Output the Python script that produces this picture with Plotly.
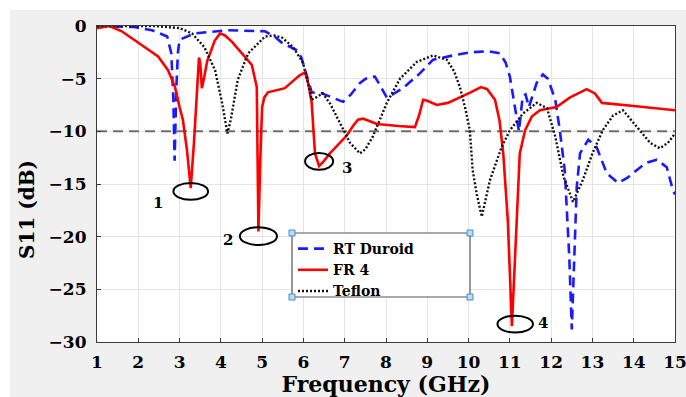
import plotly.graph_objects as go

# ---------------- data ----------------
fr4_f = [1.0, 1.3, 1.6, 2.0, 2.48, 2.72, 2.89, 3.0, 3.08, 3.18, 3.27, 3.35, 3.42, 3.47, 3.5, 3.54, 3.6, 3.67,
         3.74, 3.85, 3.98, 4.1, 4.27, 4.51, 4.75, 4.87, 4.91, 4.96, 5.0, 5.05, 5.14, 5.55, 5.75, 5.9, 6.04,
         6.12, 6.2, 6.28, 6.38, 6.5, 6.64, 7.05, 7.2, 7.32, 7.45, 7.78, 8.3, 8.7, 8.8, 8.9, 9.0, 9.23, 9.5,
         9.79, 10.05, 10.3, 10.45, 10.64, 10.75, 10.84, 10.95, 11.05, 11.17, 11.24, 11.37, 11.53, 11.73,
         12.13, 12.45, 12.7, 12.86, 13.06, 13.23, 14.0, 15.0]
fr4_db = [-0.2, 0.0, -0.5, -1.6, -2.9, -4.2, -5.8, -7.7, -8.9, -11.8, -15.4, -11.0, -6.5, -3.0, -3.5, -5.9, -4.8, -3.3,
          -2.6, -1.4, -0.7, -0.9, -1.5, -2.6, -3.7, -5.8, -19.5, -12.0, -7.7, -6.8, -6.3, -5.9, -5.2, -4.7, -4.4,
          -5.5, -7.3, -12.1, -13.3, -12.8, -12.1, -10.4, -9.5, -8.9, -8.8, -9.3, -9.5, -9.6, -8.5, -7.0, -7.1, -7.5, -7.3,
          -6.8, -6.3, -5.8, -6.0, -7.0, -9.0, -12.1, -18.4, -28.5, -18.4, -12.1, -9.9, -8.6, -8.0,
          -7.7, -6.8, -6.3, -6.0, -6.4, -7.3, -7.6, -8.0]

rt_f = [1.0, 1.9, 2.33, 2.7, 2.8, 2.85, 2.88, 2.92, 2.96, 3.0, 3.37, 4.17, 5.07, 5.3, 5.48, 5.84, 5.95, 6.04,
        6.2, 6.45, 6.7, 6.96, 7.15, 7.37, 7.55, 7.73, 7.85, 8.02, 8.2, 8.41, 8.82, 9.14, 9.62, 10.03, 10.5,
        10.76, 10.9, 11.0, 11.08, 11.22, 11.31, 11.38, 11.46, 11.55, 11.65, 11.8, 11.92, 12.1, 12.21, 12.33,
        12.44, 12.5, 12.56, 12.62, 12.7, 12.9, 13.1, 13.35, 13.62, 13.85, 14.07, 14.3, 14.56, 14.8, 14.95, 15.0]
rt_db = [0.0, -0.1, -0.4, -1.0, -2.6, -7.0, -12.8, -6.0, -2.5, -1.3, -0.7, -0.4, -0.5, -1.0, -1.6, -2.3, -3.0, -4.2,
         -6.3, -6.4, -6.8, -7.2, -6.5, -5.4, -4.9, -4.8, -5.6, -6.8, -6.4, -5.9, -4.5, -3.2, -2.8, -2.5, -2.4,
         -2.6, -3.5, -4.8, -6.7, -10.0, -6.7, -6.5, -7.7, -6.5, -5.4, -4.6, -5.0, -7.0, -9.9, -13.7,
         -22.0, -28.8, -22.0, -15.3, -12.1, -10.8, -11.5, -14.0, -14.9, -14.4, -13.7, -13.0, -12.7, -13.4, -15.6, -16.0]

tef_f = [1.0, 2.4, 3.0, 3.3, 3.6, 3.86, 4.03, 4.1, 4.16, 4.24, 4.41, 4.66, 5.07, 5.3, 5.48, 5.75, 5.99, 6.1,
         6.2, 6.3, 6.47, 6.65, 6.8, 7.0, 7.13, 7.37, 7.5, 7.68, 8.02, 8.34, 8.75, 9.14, 9.47, 9.65, 9.79,
         9.92, 10.03, 10.1, 10.2, 10.32, 10.42, 10.52, 10.8, 11.0, 11.32, 11.65, 11.9, 12.1, 12.3, 12.53,
         12.77, 13.0, 13.25, 13.5, 13.74, 14.07, 14.4, 14.63, 14.83, 15.0]
tef_db = [0.0, 0.0, -0.2, -0.7, -2.0, -4.2, -7.3, -8.9, -10.2, -8.9, -5.1, -2.6, -1.0, -0.9, -1.1, -2.0, -3.5, -5.2,
          -7.0, -6.8, -6.4, -7.4, -8.6, -10.2, -11.1, -12.1, -11.7, -10.5, -7.3, -5.0, -3.4, -2.8, -3.2, -4.3, -5.8,
          -7.8, -9.9, -13.7, -16.0, -18.1, -16.3, -14.6, -11.5, -9.9, -8.3, -7.3, -7.8, -10.5, -14.3, -16.7,
          -14.6, -12.1, -9.9, -8.5, -8.0, -9.6, -11.1, -11.6, -11.1, -10.2]

series_names = ["RT Duroid", "FR 4", "Teflon"]
threshold_db = -10

# resonance markers: centre freq, centre dB, half-width GHz, half-height dB, label position
marker_labels = ["1", "2", "3", "4"]
marker_cf = [3.27, 4.91, 6.38, 11.13]
marker_cd = [-15.7, -19.95, -12.85, -28.3]
marker_hw = [0.42, 0.45, 0.34, 0.43]
marker_hh = [0.8, 0.85, 0.8, 0.8]
label_f = [2.48, 4.17, 7.05, 11.8]
label_d = [-16.8, -20.3, -13.5, -28.2]

x_ticks = list(range(1, 16))
y_ticks = [0, -5, -10, -15, -20, -25, -30]

# ---------------- figure ----------------
FONT = "DejaVu Serif"
W, H = 686, 397
ML, MR, MT, MB = 97, 11, 26, 55
PW, PH = W - ML - MR, H - MT - MB

def px_x(px):
    return (px - ML) / PW

def px_y(py):
    return (H - MB - py) / PH

fig = go.Figure()
fig.add_trace(go.Scatter(x=rt_f, y=rt_db, mode="lines", name=series_names[0],
                         line=dict(color="#1a1aff", width=2.6, dash="10px,6px")))
fig.add_trace(go.Scatter(x=fr4_f, y=fr4_db, mode="lines", name=series_names[1],
                         line=dict(color="#ff0000", width=2.6)))
fig.add_trace(go.Scatter(x=tef_f, y=tef_db, mode="lines", name=series_names[2],
                         line=dict(color="#111111", width=2.4, dash="2px,2px")))

shapes = []
# -10 dB threshold line
shapes.append(dict(type="line", xref="x", yref="y", x0=x_ticks[0], x1=x_ticks[-1],
                   y0=threshold_db, y1=threshold_db, layer="between",
                   line=dict(color="#6e6e6e", width=2, dash="10px,6px")))
# ellipses
for cf, cd, hw, hh in zip(marker_cf, marker_cd, marker_hw, marker_hh):
    shapes.append(dict(type="circle", xref="x", yref="y", x0=cf - hw, x1=cf + hw,
                       y0=cd - hh, y1=cd + hh, line=dict(color="black", width=2)))
# white margins of the figure window
shapes.append(dict(type="rect", xref="paper", yref="paper", x0=px_x(0), x1=px_x(10),
                   y0=px_y(H), y1=px_y(0), fillcolor="white", line=dict(width=0), layer="below"))
shapes.append(dict(type="rect", xref="paper", yref="paper", x0=px_x(0), x1=px_x(W),
                   y0=px_y(10), y1=px_y(0), fillcolor="white", line=dict(width=0), layer="below"))
# legend box
lx0, lx1, ly0, ly1 = 292, 470, 233, 297
shapes.append(dict(type="rect", xref="paper", yref="paper", x0=px_x(lx0), x1=px_x(lx1),
                   y0=px_y(ly1), y1=px_y(ly0), fillcolor="white",
                   line=dict(color="#555555", width=1.2), layer="above"))
for hx in (lx0, lx1):
    for hy in (ly0, ly1):
        shapes.append(dict(type="rect", xref="paper", yref="paper",
                           x0=px_x(hx - 3), x1=px_x(hx + 3), y0=px_y(hy + 3), y1=px_y(hy - 3),
                           fillcolor="#bcdcf2", line=dict(color="#3d8fd0", width=1), layer="above"))

annotations = []
for lab, lf, ld in zip(marker_labels, label_f, label_d):
    annotations.append(dict(x=lf, y=ld, xref="x", yref="y", text=lab, showarrow=False,
                            font=dict(family=FONT, size=15, color="black", weight="bold")))
annotations.append(dict(x=px_x(27), y=px_y(210), xref="paper", yref="paper", text="S11 (dB)",
                        textangle=-90, showarrow=False, xanchor="center", yanchor="middle",
                        font=dict(family=FONT, size=20, color="black", weight="bold")))

axis_common = dict(showline=True, mirror=True, linecolor="#3a3a3a", linewidth=1.2,
                   ticks="inside", ticklen=4, tickcolor="#3a3a3a", automargin=False,
                   ticklabeloverflow="allow",
                   showgrid=True, gridcolor="#e4e4e4", gridwidth=1, zeroline=False,
                   tickfont=dict(family=FONT, size=17, color="black", weight="bold"))

fig.update_layout(
    width=W, height=H,
    margin=dict(l=ML, r=MR, t=MT, b=MB, autoexpand=False),
    paper_bgcolor="#f0f0f0", plot_bgcolor="white",
    xaxis=dict(range=[x_ticks[0], x_ticks[-1]], tickvals=x_ticks, ticklabelstandoff=4,
               title=dict(text="Frequency (GHz)", standoff=0,
                          font=dict(family=FONT, size=22, color="black", weight="bold")),
               **axis_common),
    yaxis=dict(range=[y_ticks[-1], y_ticks[0]], tickvals=y_ticks, ticklabelstandoff=6,
               **axis_common),
    showlegend=True,
    legend=dict(x=px_x(293), y=px_y(233), xanchor="left", yanchor="top",
                bgcolor="rgba(0,0,0,0)", borderwidth=0, tracegroupgap=0,
                font=dict(family=FONT, size=14, color="black", weight="bold")),
    shapes=shapes, annotations=annotations,
)

fig.write_html("out.html")
